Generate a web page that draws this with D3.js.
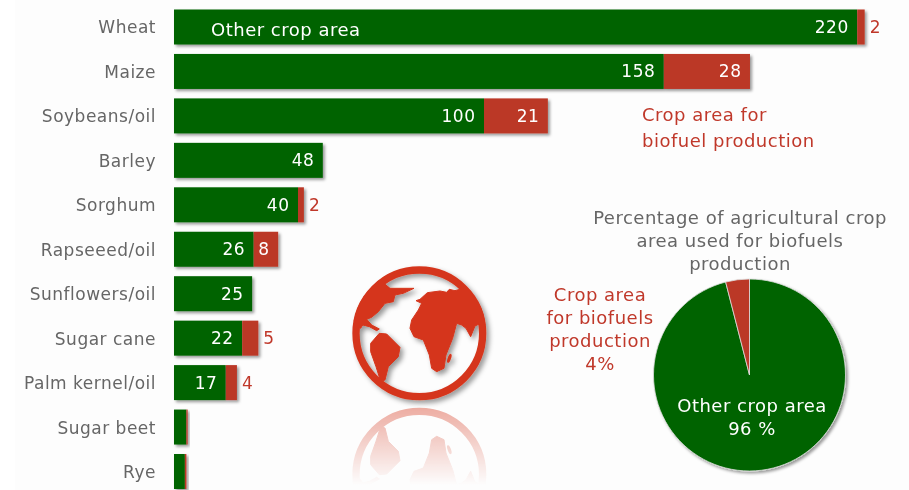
<!DOCTYPE html>
<html><head><meta charset="utf-8">
<script src="https://cdnjs.cloudflare.com/ajax/libs/d3/7.8.5/d3.min.js"></script>
<style>
html,body{margin:0;padding:0;background:#fff;overflow:hidden}
svg{display:block}
text{font-family:"DejaVu Sans",Verdana,sans-serif}
</style></head><body>
<svg id="c" width="909" height="490"></svg>
<script>
const categories=["Wheat","Maize","Soybeans/oil","Barley","Sorghum","Rapseeed/oil","Sunflowers/oil","Sugar cane","Palm kernel/oil","Sugar beet","Rye"];
const otherArea=[220.4,158,100,48,40,25.7,25.2,22,16.7,4,3.5];
const biofuelArea=[2.4,27.8,20.6,0,1.9,7.9,0,5.2,3.6,0.4,0.5];
const pieValues=[96,4];
const pieTitle=["Percentage of agricultural crop","area used for biofuels","production"];
const pieRedLabel=["Crop area","for biofuels","production","4%"];
const pieGreenLabel=["Other crop area","96 %"];
const redNote=["Crop area for","biofuel production"];
const globeAmericaN=[[120,60],[150,85],[222,85],[190,100],[165,105],[160,125],[135,130],[115,155],[95,172],[80,178],[95,195],[118,207],[110,212],[88,200],[68,195],[62,205],[50,200],[35,170],[70,80]];
const globeAmericaS=[[118,220],[140,222],[180,262],[175,290],[145,320],[135,360],[122,364],[108,320],[92,275],[92,250]];
const globeEurasia=[[240,118],[262,98],[300,93],[320,97],[328,88],[345,92],[370,85],[425,140],[440,195],[418,192],[405,198],[392,230],[378,205],[365,195],[350,190],[338,235],[318,285],[312,325],[290,335],[275,325],[268,285],[250,240],[222,230],[210,205],[215,180],[235,150],[245,130],[228,122]];

const GREEN="#006400",RED="#bb3827",GLOBE="#d5361c",GREY="#666",LABELRED="#c0392b";
const svg=d3.select("#c");
const defs=svg.append("defs");
const shadow=defs.append("filter").attr("id","sh").attr("x","-10%").attr("y","-20%").attr("width","125%").attr("height","150%");
shadow.append("feDropShadow").attr("dx",2).attr("dy",2).attr("stdDeviation",1.5).attr("flood-color","#000").attr("flood-opacity",.4);
const globeShadow=defs.append("filter").attr("id","gsh").attr("x","-15%").attr("y","-15%").attr("width","135%").attr("height","135%");
globeShadow.append("feDropShadow").attr("dx",3).attr("dy",3).attr("stdDeviation",2.5).attr("flood-color","#000").attr("flood-opacity",.4);
const soft=defs.append("filter").attr("id","soft").attr("x","-5%").attr("y","-20%").attr("width","110%").attr("height","140%");
soft.append("feGaussianBlur").attr("stdDeviation",.4);
const fade=defs.append("linearGradient").attr("id","fade").attr("gradientUnits","userSpaceOnUse").attr("x1",0).attr("x2",0).attr("y1",405).attr("y2",485);
fade.append("stop").attr("offset",0).attr("stop-color","#fff").attr("stop-opacity",.42);
fade.append("stop").attr("offset",1).attr("stop-color","#fff").attr("stop-opacity",0);
defs.append("mask").attr("id","fadeMask").attr("maskUnits","userSpaceOnUse").attr("x",300).attr("y",400).attr("width",240).attr("height",90)
  .append("rect").attr("x",300).attr("y",400).attr("width",240).attr("height",90).attr("fill","url(#fade)");
defs.append("clipPath").attr("id","disc").append("circle").attr("cx",238).attr("cy",220).attr("r",200);

svg.append("rect").attr("width",909).attr("height",490).attr("fill","#fff");
svg.append("rect").attr("x",15).attr("width",894).attr("height",490).attr("fill","#fdfdfd");

const x=d3.scaleLinear().domain([0,222]).range([174,862.2]);
const y=d3.scaleBand().domain(categories).range([9.5,489]).paddingInner(.2126).paddingOuter(0);
const round=d3.format(".0f");
const FS=17, LS=0.5, FS2=18;
const rows=categories.map((c,i)=>({c,g:otherArea[i],r:biofuelArea[i]}));

const axis=svg.append("g").attr("transform","translate(174,1)").call(d3.axisLeft(y).tickSize(0).tickPadding(18));
axis.select(".domain").remove();
axis.selectAll("text").attr("font-size",FS).attr("fill",GREY).style("letter-spacing",LS+"px").attr("font-family",'"DejaVu Sans"').attr("filter","url(#soft)");

const bar=svg.selectAll(".row").data(rows).join("g").attr("class","row").attr("filter","url(#sh)");
bar.append("rect").attr("x",x(0)).attr("y",d=>y(d.c)).attr("height",y.bandwidth()).attr("width",d=>x(d.g)-x(0)).attr("fill",GREEN);
bar.append("rect").attr("x",d=>x(d.g)).attr("y",d=>y(d.c)).attr("height",y.bandwidth()).attr("width",d=>x(d.g+d.r)-x(d.g)).attr("fill",RED);

const labels=svg.append("g").attr("font-size",FS).style("letter-spacing",LS+"px").attr("filter","url(#soft)");
labels.selectAll(".g").data(rows.filter(d=>d.g>=10)).join("text").attr("x",d=>x(d.g)-8.5).attr("y",d=>y(d.c)+y.bandwidth()/2+6).attr("text-anchor","end").attr("fill","#fff").text(d=>round(d.g));
labels.selectAll(".ri").data(rows.filter(d=>d.r>=7.5)).join("text").attr("x",d=>x(d.g+d.r)-8.5).attr("y",d=>y(d.c)+y.bandwidth()/2+6).attr("text-anchor","end").attr("fill","#fff").text(d=>round(d.r));
labels.selectAll(".ro").data(rows.filter(d=>d.r>=1.5&&d.r<7.5)).join("text").attr("x",d=>x(d.g+d.r)+5).attr("y",d=>y(d.c)+y.bandwidth()/2+6).attr("fill",LABELRED).text(d=>round(d.r));
const notes=svg.append("g").attr("font-size",FS2).style("letter-spacing",LS+"px").attr("filter","url(#soft)");
notes.append("text").attr("x",211).attr("y",36).attr("fill","#fff").text("Other crop area");
notes.selectAll(".note").data(redNote).join("text").attr("x",642).attr("y",(d,i)=>121+i*26).attr("fill",LABELRED).text(d=>d);

// pie
const pieR=96,pieCx=749.5,pieCy=375;
const pie=d3.pie().sort(null)(pieValues);
const arc=d3.arc().innerRadius(0).outerRadius(pieR);
svg.append("g").attr("transform",`translate(${pieCx},${pieCy})`).attr("filter","url(#sh)")
  .selectAll("path").data(pie).join("path").attr("d",arc).attr("fill",(d,i)=>i?RED:GREEN).attr("stroke","#ddd").attr("stroke-width",.8);
const pt=svg.append("g").attr("font-size",FS2).style("letter-spacing",LS+"px").attr("text-anchor","middle").attr("filter","url(#soft)");
pt.selectAll(".t").data(pieTitle).join("text").attr("x",740).attr("y",(d,i)=>224+i*23).attr("fill",GREY).text(d=>d);
pt.selectAll(".r").data(pieRedLabel).join("text").attr("x",600).attr("y",(d,i)=>301+i*23).attr("fill",LABELRED).text(d=>d);
pt.selectAll(".o").data(pieGreenLabel).join("text").attr("x",752).attr("y",(d,i)=>412+i*23).attr("fill","#fff").text(d=>d);

// globe icon
function drawGlobe(g){
  const line=d3.line().curve(d3.curveLinearClosed);
  g.append("circle").attr("cx",238).attr("cy",220).attr("r",190).attr("fill","none").attr("stroke",GLOBE).attr("stroke-width",22);
  const land=g.append("g").attr("clip-path","url(#disc)");
  [globeAmericaN,globeAmericaS,globeEurasia].forEach(p=>land.append("path").attr("d",line(p)).attr("fill",GLOBE).attr("stroke",GLOBE).attr("stroke-width",3).attr("stroke-linejoin","round"));
  g.append("ellipse").attr("cx",328).attr("cy",295).attr("rx",5).attr("ry",14).attr("transform","rotate(20 328 295)").attr("fill",GLOBE);
}
drawGlobe(svg.append("g").attr("filter","url(#gsh)").append("g").attr("transform","translate(340,260) scale(.3333)"));
drawGlobe(svg.append("g").attr("mask","url(#fadeMask)").append("g").attr("transform","translate(340,548) scale(.3333,-.3333)"));
</script>
</body></html>
